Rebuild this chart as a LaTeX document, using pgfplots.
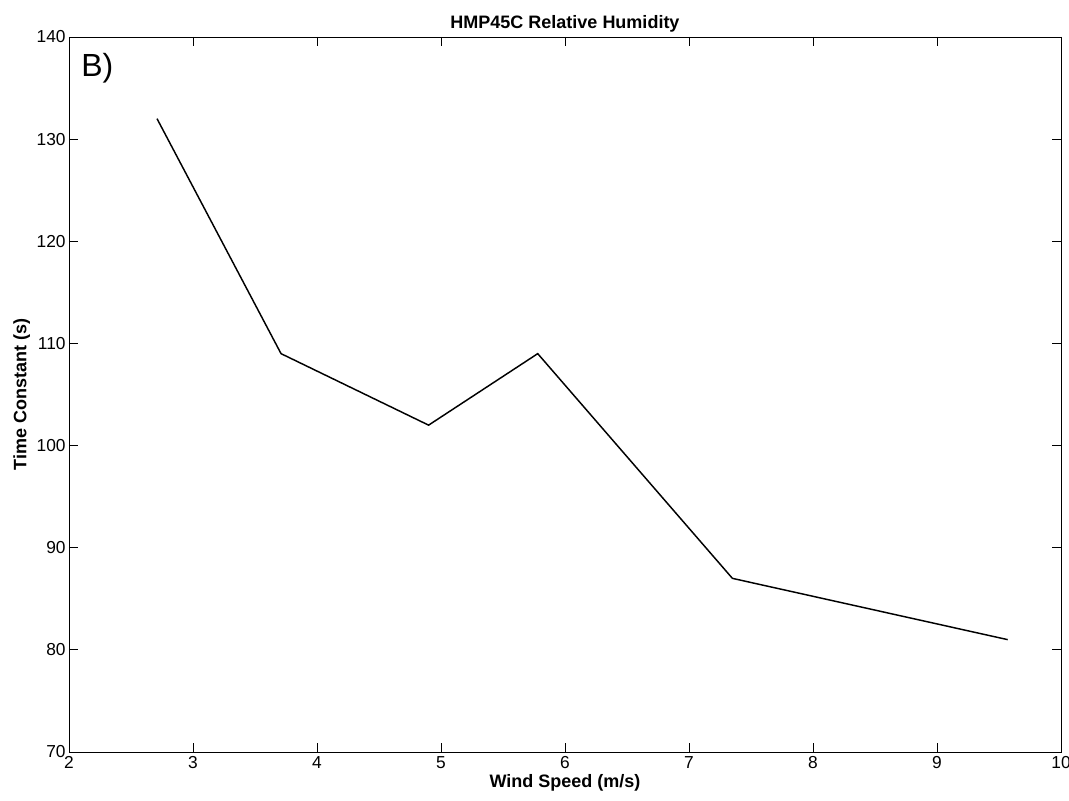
\documentclass[border=0pt]{standalone}
\usepackage{pgfplots}
\pgfplotsset{compat=1.18}
\usepackage{fontspec}
\setmainfont{Liberation Sans}
\begin{document}
\begin{tikzpicture}[x=1pt,y=1pt]
\begin{axis}[
  scale only axis,
  width=744pt, height=536.25pt,
  xmin=2, xmax=10, ymin=70, ymax=140,
  xtick={2,3,...,10}, ytick={70,80,...,140},
  tick align=inside,
  major tick length=7pt,
  tick style={black, line width=0.6pt},
  axis line style={black, line width=0.6pt},
  /pgf/number format/assume math mode=true,
  ticklabel style={font=\fontsize{13}{15}\selectfont},
  yticklabel style={xshift=1pt},
  title={\textbf{HMP45C Relative Humidity}},
  title style={font=\fontsize{13.5}{15}\selectfont, yshift=-6pt},
  xlabel={\textbf{Wind Speed (m/s)}},
  ylabel={\textbf{Time Constant (s)}},
  label style={font=\fontsize{13.5}{15}\selectfont},
  xlabel style={yshift=3pt},
  ylabel style={yshift=-2pt},
  clip=false,
]
\addplot[black, line width=1.1pt] coordinates {
 (2.71,132) (3.71,109) (4.90,102) (5.78,109) (7.35,87) (9.57,81)
};
\node[anchor=north west, font=\fontsize{24}{26}\selectfont, inner sep=0pt] at ([xshift=9pt,yshift=-12pt]rel axis cs:0,1) {B)};
\end{axis}
\pgfresetboundingbox
\path (current axis.south west) ++(-51.75pt,-36pt) coordinate (bl);
\path (current axis.north east) ++(6pt,27.75pt) coordinate (tr);
\path[use as bounding box] (bl) rectangle (tr);
\end{tikzpicture}
\end{document}
